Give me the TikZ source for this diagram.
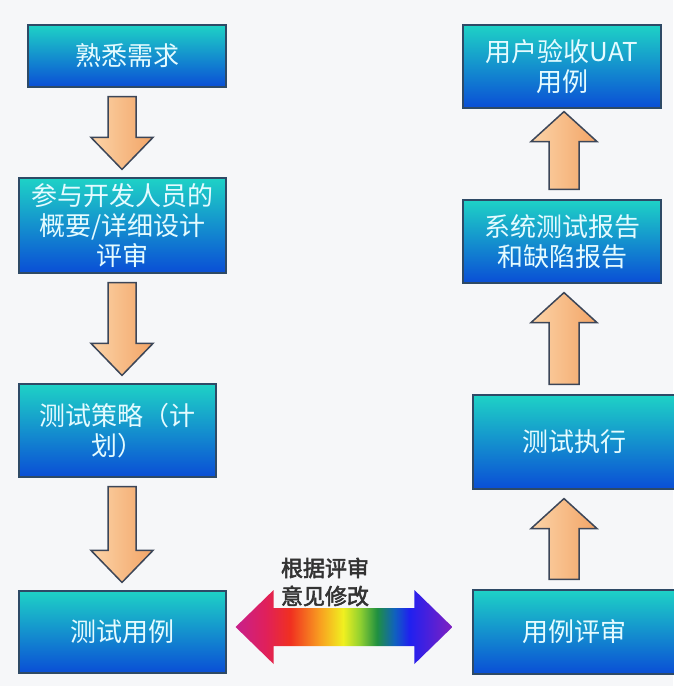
\documentclass[tikz,border=0pt]{standalone}
\usepackage{fontspec}
\setmainfont{Noto Sans CJK SC}[AutoFakeBold=2.5]
\usetikzlibrary{calc}
\definecolor{bg}{HTML}{F6F7F9}
\definecolor{boxline}{HTML}{2E4A66}
\definecolor{boxtop}{HTML}{1ED2C6}
\definecolor{boxmid}{HTML}{1398E0}
\definecolor{boxbot}{HTML}{0A4ED6}
\definecolor{boxtext}{HTML}{E4FBFF}
\definecolor{arrline}{HTML}{3C4658}
\definecolor{arrleft}{HTML}{FCD4A8}
\definecolor{arrright}{HTML}{F2A466}
\definecolor{labeltext}{HTML}{333333}
\definecolor{rbA}{HTML}{C8208C}
\definecolor{rbB}{HTML}{E0205A}
\definecolor{rbC}{HTML}{F03020}
\definecolor{rbD}{HTML}{F8A020}
\definecolor{rbE}{HTML}{F0F020}
\definecolor{rbF}{HTML}{90D030}
\definecolor{rbG}{HTML}{209040}
\definecolor{rbH}{HTML}{1060C0}
\definecolor{rbI}{HTML}{2020F0}
\definecolor{rbJ}{HTML}{8020C0}
\pgfdeclarehorizontalshading{rainbow}{100bp}{color(0bp)=(rbA); color(25bp)=(rbA); color(32bp)=(rbB); color(37.6bp)=(rbC); color(44.5bp)=(rbD); color(49.8bp)=(rbE); color(53.7bp)=(rbF); color(57.6bp)=(rbG); color(61.7bp)=(rbH); color(65.1bp)=(rbI); color(75bp)=(rbJ); color(100bp)=(rbJ)}
\tikzset{
  box/.style={draw=boxline, line width=1.2pt, top color=boxtop, middle color=boxmid, bottom color=boxbot,
    text=boxtext, align=center, font=\fontsize{26}{30}\selectfont, inner sep=0pt},
  blockarrow/.style={draw=arrline, line width=1.5pt, left color=arrleft, right color=arrright, line join=miter},
  rainbowarrow/.style={shading=rainbow},
  revlabel/.style={text=labeltext, align=center, font=\bfseries\fontsize{22}{28}\selectfont, inner sep=0pt}
}
\newcommand\downblock[3]{%
  \coordinate (s) at (#1.south -| #3);
  \coordinate (t) at (#2.north -| #3);
  \path[blockarrow] ($(s)+(-14,9)$) -- ($(s)+(14,9)$) -- ($(t)+(14,-40)$) -- ($(t)+(31,-40)$)
    -- ($(t)+(0,-8)$) -- ($(t)+(-31,-40)$) -- ($(t)+(-14,-40)$) -- cycle;}
\newcommand\upblock[4]{%
  \coordinate (s) at (#1.north -| #3);
  \coordinate (t) at (#2.south -| #3);
  \path[blockarrow] ($(s)+(-15,-10)$) -- ($(s)+(15,-10)$) -- ($(t)+(15,#4+30)$) -- ($(t)+(33,#4+30)$)
    -- ($(t)+(0,#4)$) -- ($(t)+(-33,#4+30)$) -- ($(t)+(-15,#4+30)$) -- cycle;}
\begin{document}
\begin{tikzpicture}[x=1pt,y=-1pt]
\fill[bg] (0,0) rectangle (673,686);
\useasboundingbox (0,0) rectangle (673,686);
\coordinate (xl) at (122,0);
\coordinate (xr) at (564,0);
% left column
\node[box, minimum width=198pt, minimum height=62pt] (b1) at (127,56) {熟悉需求};
\node[box, minimum width=207pt, minimum height=95pt] (b2) at (122.5,225.5) {参与开发人员的\\概要/详细设计\\评审};
\node[box, minimum width=197pt, minimum height=93pt] (b3) at (117.5,430.5) {测试策略（计\\划）};
\node[box, minimum width=207pt, minimum height=82pt] (b4) at (122.5,632) {测试用例};
% right column
\node[box, minimum width=198pt, minimum height=83pt] (r1) at (562,66.5) {用户验收UAT\\用例};
\node[box, minimum width=198pt, minimum height=83pt] (r2) at (562,241.5) {系统测试报告\\和缺陷报告};
\node[box, minimum width=202pt, minimum height=94pt] (r3) at (574,442) {测试执行};
\node[box, minimum width=202pt, minimum height=84pt] (r4) at (574,632) {用例评审};
% block arrows
\downblock{b1}{b2}{xl}
\downblock{b2}{b3}{xl}
\downblock{b3}{b4}{xl}
\upblock{r2}{r1}{xr}{3}
\upblock{r3}{r2}{xr}{9}
\upblock{r4}{r3}{xr}{9}
% rainbow double arrow
\coordinate (L) at ($(b4.east)+(9,-5)$);
\coordinate (R) at ($(r4.west)+(-20,-5)$);
\path[rainbowarrow] (L) -- ($(L)+(38,-37)$) -- ($(L)+(38,-19)$) -- ($(R)+(-38,-19)$) -- ($(R)+(-38,-37)$)
  -- (R) -- ($(R)+(-38,37)$) -- ($(R)+(-38,19)$) -- ($(L)+(38,19)$) -- ($(L)+(38,37)$) -- cycle;
\node[revlabel] (lab) at (325,582) {根据评审\\意见修改};
\end{tikzpicture}
\end{document}
